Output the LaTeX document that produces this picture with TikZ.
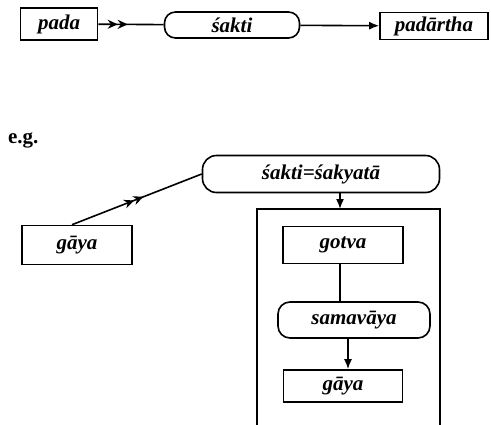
\documentclass[tikz,border=0pt]{standalone}
\usepackage{fontspec}
\setmainfont{Liberation Serif}
\usetikzlibrary{arrows.meta,decorations.markings}
\tikzset{
  box/.style={draw, line width=1.6pt, rectangle, inner sep=0pt, font=\fontsize{21}{24}\selectfont\bfseries\itshape},
  roundbox/.style={box, rounded corners=11pt},
  tip/.style={-{Latex[length=10pt,width=8pt]}},
  dbl/.style={postaction={decorate}, decoration={markings,
      mark=at position #1 with {\arrow{Stealth[length=10pt,width=9pt] Stealth[length=10pt,width=9pt]}}}}
}
\begin{document}
\begin{tikzpicture}[x=1pt,y=-1pt, line width=1.6pt]
  \useasboundingbox (0,0) rectangle (491,424);
  % top row
  \node[box, minimum width=77pt, minimum height=32pt] (pada) at (59,24) {pada};
  \node[roundbox, minimum width=135pt, minimum height=26pt] (sakti) at (232,25) {śakti};
  \node[box, minimum width=108pt, minimum height=27pt] (padartha) at (434,26) {padārtha};
  \draw[dbl=0.45] (pada) -- (sakti);
  \draw[tip] (sakti) -- (padartha);
  % example
  \node[font=\fontsize{21}{23}\selectfont\bfseries, anchor=west] (eg) at (4,140) {e.g.};
  \node[roundbox, rounded corners=14pt, minimum width=237pt, minimum height=37pt] (sakyata) at (321,174) {śakti=śakyatā};
  \node[box, minimum width=110pt, minimum height=39pt] (gaya) at (77,245) {gāya};
  \draw[dbl=0.55] ([xshift=-5pt]gaya.north) -- (sakyata.west);
  % outer frame (cut off at the bottom)
  \coordinate (frametop) at (340,209);
  \draw (257,430) -- (257,209) -- (440,209) -- (440,430);
  \draw[tip] (sakyata.south -| frametop) -- (frametop);
  \node[box, minimum width=120pt, minimum height=37pt] (gotva) at (343,245) {gotva};
  \node[roundbox, rounded corners=12pt, minimum width=152pt, minimum height=36pt] (samavaya) at (354,320) {samavāya};
  \node[box, minimum width=119pt, minimum height=32pt] (gayab) at (343,386) {gāya};
  \draw ([xshift=-3pt]gotva.south) -- ([xshift=-3pt]gotva.south |- samavaya.north);
  \draw[tip] ([xshift=5pt]gayab.north |- samavaya.south) -- ([xshift=5pt]gayab.north);
\end{tikzpicture}
\end{document}
